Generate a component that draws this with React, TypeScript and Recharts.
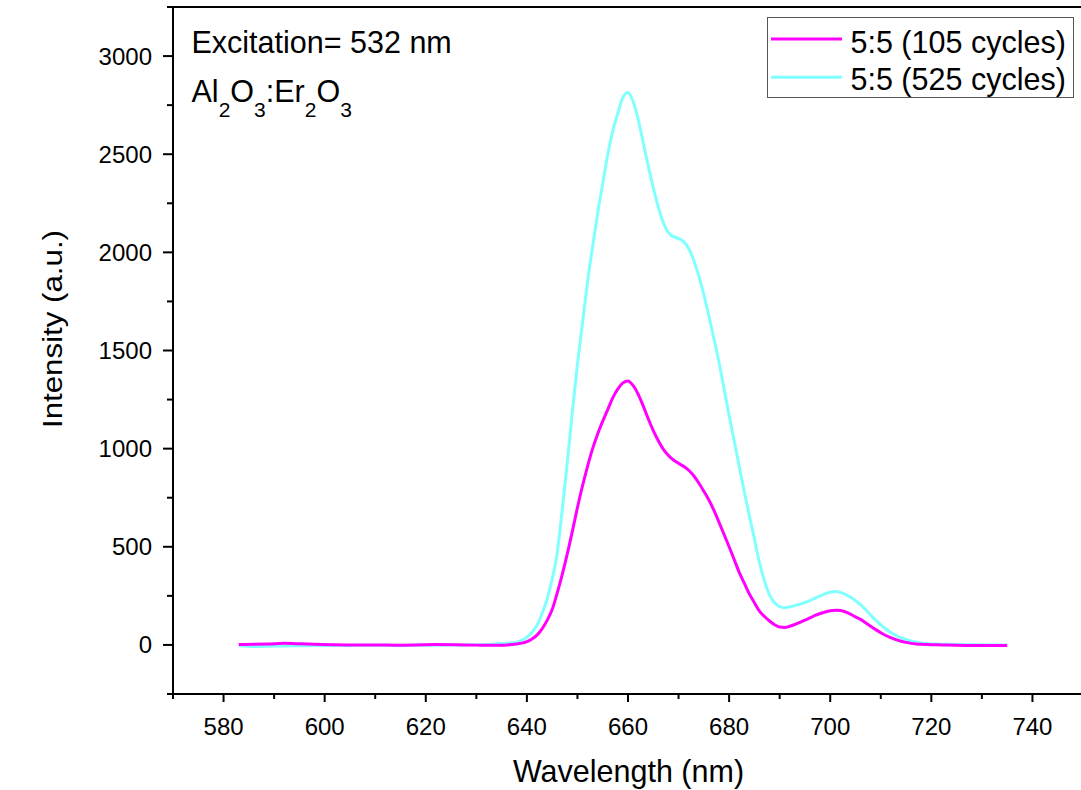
import React from 'react';
import { LineChart, Line, XAxis, YAxis, Legend, ReferenceLine } from 'recharts';

const wavelengths = [
  583, 586, 589, 592, 595, 598, 602, 606, 610, 614, 618, 622, 626, 630, 633, 635, 637,
  638, 639, 640, 641, 642, 643, 644, 645, 646, 647, 648, 649, 650, 651, 652, 653, 654, 655, 656, 657, 658, 659,
  660, 661, 662, 663, 664, 665, 666, 667, 668, 669, 670, 671, 672, 673, 674, 675, 676, 677, 678, 679,
  680, 681, 682, 683, 684, 685, 686, 687, 688, 689, 690, 691, 692, 693, 694, 695, 696, 697, 698, 699,
  700, 701, 702, 703, 704, 705, 706, 707, 708, 709, 710, 711, 712, 713, 714, 715, 716, 717, 718, 719, 720,
  722, 725, 728, 731, 735,
];

const cycles105 = [
  2, 3, 5, 8, 6, 3, 1, 0, 0, -1, 0, 2, 1, -1, -2, -2, 2,
  5, 9, 17, 30, 50, 82, 125, 180, 265, 360, 465, 580, 700, 810, 910, 1000, 1075, 1140, 1200, 1260, 1305, 1335,
  1345, 1322, 1278, 1218, 1152, 1092, 1040, 996, 965, 942, 925, 910, 890, 862, 825, 783, 738, 685, 625, 563,
  500, 435, 370, 315, 260, 215, 172, 145, 122, 103, 91, 89, 95, 104, 115, 126, 138, 150, 160, 168,
  174, 177, 175, 168, 157, 143, 130, 113, 95, 78, 62, 48, 37, 27, 19, 13, 8, 5, 3, 2, 1,
  0, -2, -3, -3, -3,
];

const cycles525 = [
  -3, -8, -7, -5, -4, -3, -3, -2, -2, -2, -1, -1, 0, 1, 4, 7, 11,
  14, 24, 40, 65, 100, 160, 235, 335, 470, 690, 930, 1190, 1430, 1640, 1850, 2030, 2200, 2350, 2500, 2620, 2710, 2790,
  2815, 2770, 2680, 2560, 2440, 2330, 2230, 2150, 2100, 2080, 2070, 2055, 2020, 1960, 1880, 1785, 1675, 1560, 1440, 1305,
  1170, 1040, 910, 780, 660, 540, 420, 325, 255, 215, 195, 190, 194, 200, 208, 216, 226, 238, 250, 260,
  268, 272, 268, 258, 244, 225, 205, 180, 152, 126, 102, 81, 63, 48, 37, 28, 20, 15, 10, 7, 5,
  4, 2, 1, 0, 0,
];

const xTicks = [570, 580, 590, 600, 610, 620, 630, 640, 650, 660, 670, 680, 690, 700, 710, 720, 730, 740, 750];
const yTicks = [-250, 0, 250, 500, 750, 1000, 1250, 1500, 1750, 2000, 2250, 2500, 2750, 3000, 3250];

const seriesNames = ['5:5 (105 cycles)', '5:5 (525 cycles)'];
const seriesColors = ['#FF00FF', '#80FFFF'];

const data = wavelengths.map((wl, i) => ({ wl, a: cycles105[i], b: cycles525[i] }));

const FONT = "'Liberation Sans', Arial, sans-serif";

const XTick = (props: any) => {
  const { x, y, payload } = props;
  const major = payload.value % 20 === 0;
  return (
    <g>
      <line x1={x} x2={x} y1={y} y2={y + (major ? 8 : 5)} stroke="#000" strokeWidth={2} />
      {major && (
        <text x={x} y={y + 41} textAnchor="middle" fontSize={24} fontFamily={FONT} fill="#000">
          {payload.value}
        </text>
      )}
    </g>
  );
};

const YTick = (props: any) => {
  const { x, y, payload } = props;
  const major = payload.value % 500 === 0;
  return (
    <g>
      <line x1={x - (major ? 10 : 6)} x2={x} y1={y} y2={y} stroke="#000" strokeWidth={2} />
      {major && (
        <text x={x - 21} y={y + 8.5} textAnchor="end" fontSize={24} fontFamily={FONT} fill="#000">
          {payload.value}
        </text>
      )}
    </g>
  );
};

const XTitle = () => (
  <text x={628.5} y={782} textAnchor="middle" fontSize={30.5} fontFamily={FONT} fill="#000">
    Wavelength (nm)
  </text>
);

const YTitle = () => (
  <text
    x={62}
    y={329}
    transform="rotate(-90, 62, 329)"
    textAnchor="middle"
    fontSize={27}
    fontFamily={FONT}
    fill="#000"
    textLength={198}
    lengthAdjust="spacingAndGlyphs"
  >
    Intensity (a.u.)
  </text>
);

const LegendBox = (props: any) => {
  const payload = props.payload || [];
  const rowLine = [22, 60.3];
  const rowText = [36.3, 73];
  return (
    <svg width={307} height={81} style={{ display: 'block' }}>
      <rect x={0.5} y={0.5} width={306} height={80} fill="#fff" stroke="#555" strokeWidth={1} />
      {payload.map((p: any, i: number) => (
        <g key={i}>
          <line x1={4} x2={75} y1={rowLine[i]} y2={rowLine[i]} stroke={p.color} strokeWidth={3} />
          <text x={83.5} y={rowText[i]} fontSize={30.5} fontFamily={FONT} fill="#000">
            {p.value}
          </text>
        </g>
      ))}
    </svg>
  );
};

export default function App() {
  return (
    <div
      style={{
        position: 'absolute',
        left: 0,
        top: 0,
        width: 1081,
        height: 790,
        overflow: 'hidden',
        background: '#fff',
      }}
    >
      <LineChart width={1093} height={790} data={data} margin={{ top: 7, right: 10, bottom: 0, left: 0 }}>
        <XAxis
          dataKey="wl"
          type="number"
          domain={[570, 750]}
          ticks={xTicks}
          interval={0}
          allowDataOverflow
          height={96}
          tickLine={false}
          tickSize={0}
          tickMargin={0}
          tick={<XTick />}
          axisLine={{ stroke: '#000', strokeWidth: 2 }}
          label={<XTitle />}
        />
        <YAxis
          type="number"
          domain={[-250, 3250]}
          ticks={yTicks}
          interval={0}
          allowDataOverflow
          width={173}
          tickLine={false}
          tickSize={0}
          tickMargin={0}
          tick={<YTick />}
          axisLine={{ stroke: '#000', strokeWidth: 2 }}
          label={<YTitle />}
        />
        <ReferenceLine y={3250} stroke="#000" strokeWidth={2} />
        <Legend
          layout="horizontal"
          verticalAlign="middle"
          align="center"
          content={<LegendBox />}
          wrapperStyle={{ left: 767, top: 17, width: 307, height: 81 }}
        />
        <Line
          type="monotone"
          dataKey="b"
          name={seriesNames[1]}
          stroke={seriesColors[1]}
          strokeWidth={3}
          dot={false}
          isAnimationActive={false}
        />
        <Line
          type="monotone"
          dataKey="a"
          name={seriesNames[0]}
          stroke={seriesColors[0]}
          strokeWidth={3}
          dot={false}
          isAnimationActive={false}
        />
      </LineChart>
      <svg
        width={1081}
        height={790}
        style={{ position: 'absolute', left: 0, top: 0, pointerEvents: 'none' }}
      >
        <text x={191.5} y={53} fontSize={30.5} fontFamily={FONT} fill="#000">
          Excitation= 532 nm
        </text>
        <text x={191.5} y={101.5} fontSize={30.5} fontFamily={FONT} fill="#000">
          <tspan>Al</tspan>
          <tspan fontSize={21} dy={15}>2</tspan>
          <tspan dy={-15}>O</tspan>
          <tspan fontSize={21} dy={15}>3</tspan>
          <tspan dy={-15}>:Er</tspan>
          <tspan fontSize={21} dy={15}>2</tspan>
          <tspan dy={-15}>O</tspan>
          <tspan fontSize={21} dy={15}>3</tspan>
        </text>
      </svg>
    </div>
  );
}
